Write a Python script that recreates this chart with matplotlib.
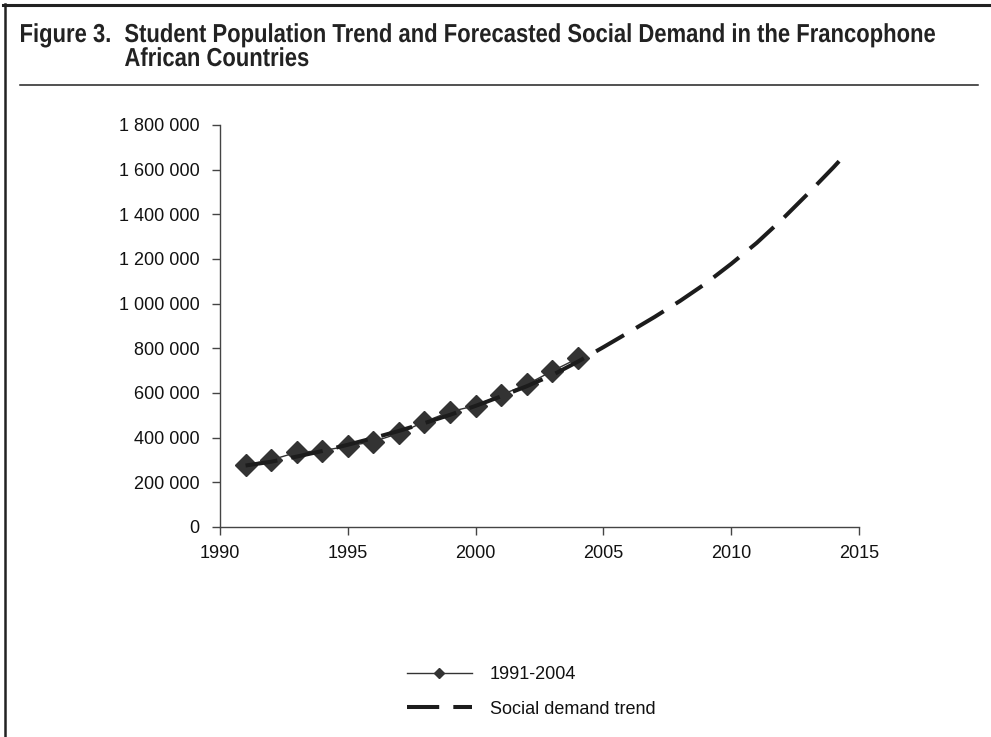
import matplotlib.pyplot as plt
from matplotlib.lines import Line2D
from matplotlib.ticker import FuncFormatter
from matplotlib.textpath import TextPath
from matplotlib.patches import PathPatch
from matplotlib.font_manager import FontProperties
from matplotlib.transforms import Affine2D, IdentityTransform

# Enrolment 1991-2004 (students)
years = [1991, 1992, 1993, 1994, 1995, 1996, 1997, 1998, 1999, 2000, 2001, 2002, 2003, 2004]
students = [277000, 300000, 334000, 341000, 362000, 382000, 419000, 471000,
            516000, 543000, 591000, 638000, 698000, 755000]

# Forecast of social demand, extended to 2014.5
trend_years = [1991, 1992, 1993, 1994, 1995, 1996, 1997, 1998, 1999, 2000, 2001, 2002, 2003,
               2004, 2005, 2006, 2007, 2008, 2009, 2010, 2011, 2012, 2013, 2014, 2014.5]
trend_values = [275000, 292000, 315000, 340000, 368000, 398000, 430000, 465000, 502000,
                542000, 585000, 630000, 680000, 740000, 805000, 872000, 940000, 1012000,
                1090000, 1178000, 1272000, 1378000, 1492000, 1610000, 1672000]

x_ticks = [1990, 1995, 2000, 2005, 2010, 2015]
y_ticks = [0, 200000, 400000, 600000, 800000, 1000000, 1200000, 1400000, 1600000, 1800000]

title_label = "Figure 3."
title_line1 = "Student Population Trend and Forecasted Social Demand in the Francophone"
title_line2 = "African Countries"

plt.rcParams['font.family'] = ['Liberation Sans', 'DejaVu Sans']

fig = plt.figure(figsize=(9.91, 7.37), dpi=100)
H = 737
ax = fig.add_axes([0.222, 0.285, 0.6448, 0.5455])

ax.plot(years, students, color='#333333', lw=1.0, marker='D', markersize=11,
        markerfacecolor='#333333', markeredgecolor='#333333', label='1991-2004', zorder=2)
ax.plot(trend_years, trend_values, color='#1c1c1c', lw=2.9, dashes=(8, 3.5),
        label='Social demand trend', zorder=3)

ax.set_xlim(1990, 2015)
ax.set_ylim(0, 1800000)
ax.set_xticks(x_ticks)
ax.set_yticks(y_ticks)
ax.yaxis.set_major_formatter(FuncFormatter(lambda v, p: f"{int(v):,}".replace(",", " ")))

for side in ['top', 'right']:
    ax.spines[side].set_visible(False)
for side in ['left', 'bottom']:
    ax.spines[side].set_color('#444444')
    ax.spines[side].set_linewidth(1.0)
ax.tick_params(axis='both', colors='#444444', labelcolor='#111111', labelsize=13,
               length=6, width=1.0, direction='out')
ax.tick_params(axis='y', pad=8.5)
ax.tick_params(axis='x', pad=7)

leg = fig.legend(loc='center', bbox_to_anchor=(0.536, 0.061), frameon=False, fontsize=13,
                 handlelength=3.6, handletextpad=1.0, labelspacing=0.95, markerscale=0.5)
for t in leg.get_texts():
    t.set_color('#111111')


# Condensed bold title: squeeze a bold text path horizontally to the set width
def squeezed_text(text, x0, x1, baseline, size=26):
    prop = FontProperties(family='Liberation Sans', weight='bold')
    path = TextPath((0, 0), text, size=size, prop=prop)
    ext = path.get_extents()
    sx = (x1 - x0) / ext.width
    tr = Affine2D().translate(-ext.x0, 0).scale(sx, 1.0).translate(x0, H - baseline)
    patch = PathPatch(tr.transform_path(path), facecolor='#222222', edgecolor='none',
                      transform=IdentityTransform())
    fig.add_artist(patch)
    return sx


sx = squeezed_text(title_line1, 125, 935, 42)
prop_b = FontProperties(family='Liberation Sans', weight='bold')
for txt, x0, base in [(title_label, 21, 42), (title_line2, 125, 66)]:
    w = TextPath((0, 0), txt, size=26, prop=prop_b).get_extents().width
    squeezed_text(txt, x0, x0 + w * sx, base)

# Box edges and rule under the title
fig.add_artist(Line2D([0.003, 1], [0.9932, 0.9932], color='#222222', lw=2.2,
                      transform=fig.transFigure))
fig.add_artist(Line2D([0.0046, 0.0046], [0, 0.995], color='#222222', lw=1.8,
                      transform=fig.transFigure))
fig.add_artist(Line2D([0.02, 0.987], [0.8847, 0.8847], color='#222222', lw=1.1,
                      transform=fig.transFigure))

fig.savefig('out.png', dpi=100)
